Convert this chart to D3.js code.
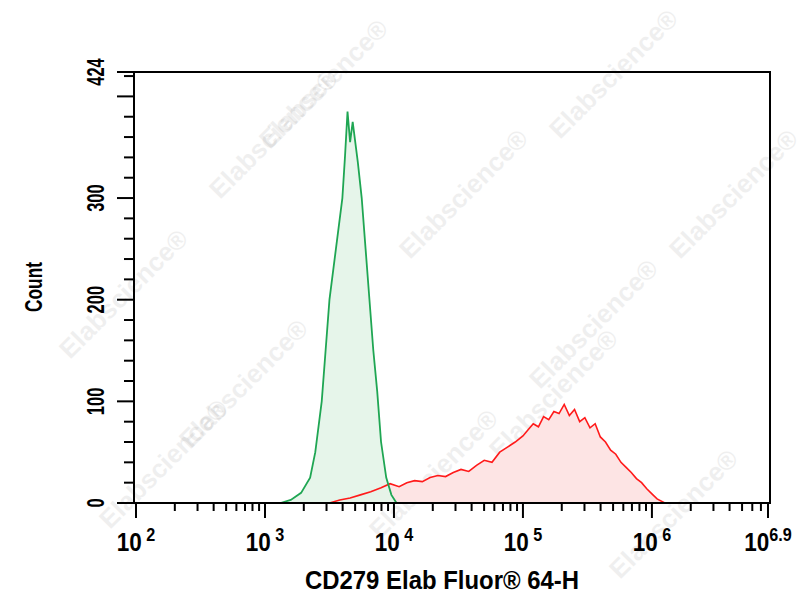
<!DOCTYPE html><html><head><meta charset="utf-8"><script src="https://cdn.jsdelivr.net/npm/d3@7"></script>
<style>body{margin:0;background:#fff}text{font-family:"Liberation Sans",Arial,sans-serif;font-weight:bold}</style></head><body>
<svg id="c" width="804" height="600"></svg>
<script>
const greenLog=[3.12,3.2,3.28,3.35,3.39,3.44,3.47,3.5,3.55,3.6,3.62,3.64,3.66,3.68,3.72,3.75,3.78,3.81,3.84,3.87,3.9,3.94,3.98,4.02];
const greenCount=[0,3,10,25,50,100,150,200,250,300,340,385,355,375,335,300,250,200,150,110,60,25,8,0];
const redLog=[3.5,3.58,3.66,3.74,3.82,3.9,3.97,4.04,4.1,4.16,4.22,4.28,4.34,4.4,4.46,4.52,4.58,4.64,4.7,4.76,4.82,4.88,4.94,5.0,5.04,5.08,5.12,5.16,5.2,5.24,5.28,5.32,5.36,5.4,5.44,5.48,5.52,5.56,5.6,5.64,5.68,5.72,5.76,5.8,5.84,5.88,5.92,5.96,6.0,6.04,6.1];
const redCount=[0,3,5,8,11,15,19,16,20,22,21,25,27,26,30,33,31,37,42,40,50,55,60,66,72,78,75,85,82,90,88,97,86,92,80,84,74,78,65,60,52,48,40,35,30,24,20,14,9,4,0];
const yTicks=[0,100,200,300,424];
const xDecades=[2,3,4,5,6,6.9];
const xLabel="CD279 Elab Fluor\u00AE 64-H", yLabel="Count";

const svg=d3.select("#c");
const x=d3.scaleLinear().domain([2,6.9]).range([136,768]);
const y=d3.scaleLinear().domain([0,424]).range([503,72]);
const wm=[[330,90],[620,80],[280,140],[470,200],[740,200],[130,300],[600,330],[250,390],[560,400],[170,470],[440,480],[680,520]];
svg.selectAll(".wm").data(wm).join("text").attr("transform",d=>`translate(${d[0]},${d[1]}) rotate(-45)`)
 .attr("text-anchor","middle").attr("font-size",26).attr("fill","#000").attr("opacity",0.06).text("Elabscience\u00AE");
const area=d3.area().x(d=>x(d[0])).y0(y(0)).y1(d=>y(d[1]));
const line=d3.line().x(d=>x(d[0])).y(d=>y(d[1]));
const red=redLog.map((v,i)=>[v,redCount[i]]), green=greenLog.map((v,i)=>[v,greenCount[i]]);
svg.append("path").attr("d",area(red)).attr("fill","#fde4e4");
svg.append("path").attr("d",area(green)).attr("fill","#e3f4e8").attr("opacity",0.9);
svg.append("path").attr("d",line(red)).attr("fill","none").attr("stroke","#ff1a1a").attr("stroke-width",1.6);
svg.append("path").attr("d",line(green)).attr("fill","none").attr("stroke","#1fa653").attr("stroke-width",1.8);
svg.append("rect").attr("x",134).attr("y",72).attr("width",636).attr("height",431).attr("fill","none").attr("stroke","#000").attr("stroke-width",2);
const ya=svg.append("g");
d3.range(0,424,20).concat([424]).forEach(v=>{const maj=v%100==0||v==424;
 ya.append("line").attr("x1",maj?117:124).attr("x2",134).attr("y1",y(v)).attr("y2",y(v)).attr("stroke","#000").attr("stroke-width",2);});
yTicks.forEach(v=>ya.append("text").attr("transform",`translate(104,${y(v)}) rotate(-90) scale(0.72,1)`).attr("text-anchor","middle").attr("font-size",23).text(v));
svg.append("text").attr("transform",`translate(42,287) rotate(-90) scale(0.72,1)`).attr("text-anchor","middle").attr("font-size",24).text(yLabel);
const xa=svg.append("g");
for(let d=2;d<7;d++){for(let m=1;m<10;m++){const v=d+Math.log10(m);if(v>6.9)break;
 xa.append("line").attr("x1",x(v)).attr("x2",x(v)).attr("y1",503).attr("y2",m==1?518:511).attr("stroke","#000").attr("stroke-width",2);}}
xa.append("line").attr("x1",x(6.9)).attr("x2",x(6.9)).attr("y1",503).attr("y2",518).attr("stroke","#000").attr("stroke-width",2);
xDecades.forEach(v=>{const t=xa.append("text").attr("transform",`translate(${x(v)},551) scale(0.9,1)`).attr("text-anchor","middle").attr("font-size",25);
 t.append("tspan").text("10"); t.append("tspan").attr("dy",-10).attr("font-size",18).text(v==6.9?"6.9":" "+v);});
svg.append("text").attr("transform","translate(442,589) scale(0.92,1)").attr("text-anchor","middle").attr("font-size",26).text(xLabel);
</script></body></html>
